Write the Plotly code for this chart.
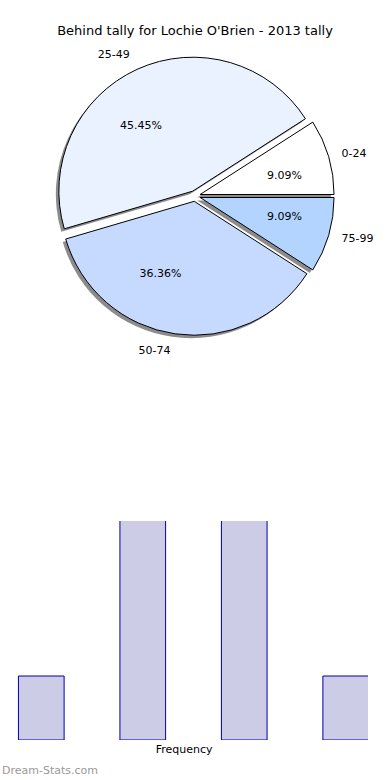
import plotly.graph_objects as go

# data
labels = ["0-24", "25-49", "50-74", "75-99"]
counts = [1, 5, 4, 1]
pie_colors = ["#ffffff", "#eaf1ff", "#c6d9ff", "#b3d4ff"]
bar_x = [0, 1, 2, 3]
bar_values = [1, 5, 4, 1]

title = "Behind tally for Lochie O'Brien - 2013 tally"
W, H = 390, 780

pull = [0.04, 0.04, 0.04, 0.04]
# plotly puts the end of the first slice at "rotation" for counterclockwise pies
rotation = 90 - 360 * counts[0] / sum(counts)

cx, cy = 196 / W, 1 - 196 / H


def dom(half, dx=0, dy=0):
    return dict(x=[cx - half / W + dx / W, cx + half / W + dx / W],
                y=[cy - half / H - dy / H, cy + half / H - dy / H])


common = dict(labels=labels, values=counts, sort=False, direction="counterclockwise",
              rotation=rotation, pull=pull, showlegend=False)
clear = dict(colors=["rgba(0,0,0,0)"] * 4, line=dict(width=0))
tfont = dict(family="DejaVu Sans", size=11, color="#000")

fig = go.Figure()

# shadow
fig.add_trace(go.Pie(
    **common, textinfo="none", hoverinfo="skip",
    marker=dict(colors=["rgba(0,0,0,0.45)"] * 4, line=dict(width=0)),
    domain=dom(140, -3, 3),
))
# main pie
fig.add_trace(go.Pie(
    **common, textinfo="none",
    marker=dict(colors=pie_colors, line=dict(color="#000", width=1)),
    domain=dom(140),
))
# percentages (placed around an inner, invisible pie)
fig.add_trace(go.Pie(
    **common, texttemplate="%{percent:.2%}", textposition="outside", hoverinfo="skip",
    textfont=tfont, marker=clear, domain=dom(72),
))
# category labels outside
fig.add_trace(go.Pie(
    **common, textinfo="label", textposition="outside", hoverinfo="skip",
    textfont=tfont, marker=clear, domain=dom(150),
))

fig.add_trace(go.Bar(
    x=bar_x, y=bar_values, width=0.45,
    marker=dict(color="#cccce6", line=dict(color="#0000aa", width=1)),
    showlegend=False, xaxis="x", yaxis="y",
))

fig.update_layout(
    width=W, height=H,
    margin=dict(l=0, r=0, t=0, b=0),
    paper_bgcolor="#fff", plot_bgcolor="#fff",
    font=dict(family="DejaVu Sans", color="#000"),
    title=dict(text=title, x=0.5, xanchor="center", y=1 - 30 / H, yanchor="middle",
               font=dict(size=13)),
    xaxis=dict(domain=[0, 370 / W], range=[-41.5 / 102, 3 + (370 - 41.5 - 306) / 102],
               showticklabels=False, showgrid=False, zeroline=False, showline=False, ticks="",
               title=dict(text="Frequency", font=dict(size=11), standoff=5)),
    yaxis=dict(domain=[1 - 740 / H, 1 - 521 / H], range=[0, 219 / 64], showticklabels=False,
               showgrid=False, zeroline=False, showline=False, ticks=""),
    annotations=[dict(text="Dream-Stats.com", x=0, y=1 - 770 / H, xref="paper", yref="paper",
                      xanchor="left", yanchor="middle", showarrow=False,
                      font=dict(family="DejaVu Sans", size=11, color="#999"))],
)

fig.write_html("out.html", config={"displayModeBar": False},
               post_script="document.body.style.margin='0px';")
